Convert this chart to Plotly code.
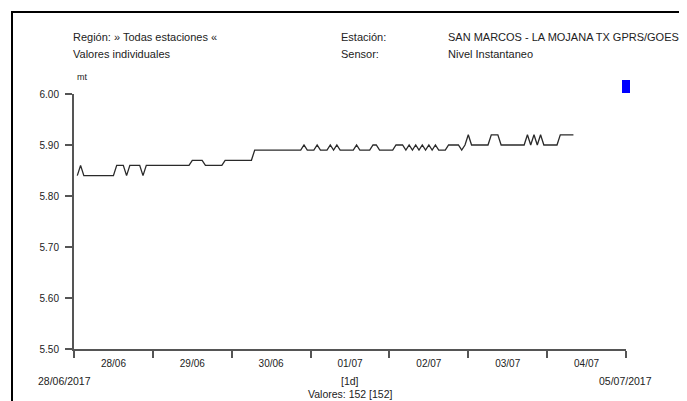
import plotly.graph_objects as go
import pandas as pd

# ---- data ----
segments = [
    (5.84, 1), (5.86, 1), (5.84, 10), (5.86, 3), (5.84, 1), (5.86, 4), (5.84, 1),
    (5.86, 14), (5.87, 4), (5.86, 6), (5.87, 9), (5.89, 15),
    (5.90, 1), (5.89, 3), (5.90, 1), (5.89, 3), (5.90, 1), (5.89, 1), (5.90, 1),
    (5.89, 5), (5.90, 1), (5.89, 4), (5.90, 2), (5.89, 5), (5.90, 3),
    (5.89, 1), (5.90, 1), (5.89, 1), (5.90, 1), (5.89, 1), (5.90, 1), (5.89, 1),
    (5.90, 1), (5.89, 1), (5.90, 1), (5.89, 3),
    (5.90, 4), (5.89, 1), (5.90, 1), (5.92, 1), (5.90, 6), (5.92, 3), (5.90, 8),
    (5.92, 1), (5.90, 1), (5.92, 1), (5.90, 1), (5.92, 1), (5.90, 5), (5.92, 5),
]
values = []
for v, n in segments:
    values += [v] * n

start_time = "2017-06-28 01:00"
times = pd.date_range(start_time, periods=len(values), freq="h")

x_range = ["2017-06-28", "2017-07-05"]
y_ticks = [5.50, 5.60, 5.70, 5.80, 5.90, 6.00]

region_text = "Región: » Todas estaciones «"
mode_text = "Valores individuales"
station_label = "Estación:"
sensor_label = "Sensor:"
station_name = "SAN MARCOS - LA MOJANA TX GPRS/GOES"
sensor_name = "Nivel Instantaneo"
unit = "mt"
start_label = "28/06/2017"
end_label = "05/07/2017"
interval_label = "[1d]"

FONT = "Liberation Sans, Arial, sans-serif"
AX = "#555555"
TXT = "#222222"

fig = go.Figure()
fig.add_trace(go.Scatter(x=times, y=values, mode="lines",
                         line=dict(color="#2a2a2a", width=1.3), showlegend=False,
                         hoverinfo="skip"))

# page body has an 8px margin: work in reference pixels, shifted by OFF
OFF = 8
W, H = 687 - OFF, 401 - OFF
L, T = 74 - OFF, 94 - OFF
PR, PB = 626 - OFF, 349 - OFF
R, B = W - PR, H - PB
pw, ph = PR - L, PB - T

def px(x):
    return (x - OFF - L) / pw

def py(y):
    return (PB - (y - OFF)) / ph

fig.update_layout(
    width=W, height=H,
    margin=dict(l=L, r=R, t=T, b=B, pad=0),
    paper_bgcolor="white", plot_bgcolor="white",
    font=dict(family=FONT, size=10, color=TXT),
    xaxis=dict(type="date", range=x_range, showgrid=False, zeroline=False,
               showline=True, linecolor=AX, linewidth=2,
               ticks="outside", ticklen=7, tickwidth=2, tickcolor=AX,
               tick0="2017-06-28", dtick=86400000, tickformat="%d/%m",
               ticklabelmode="period", ticklabelstandoff=-3,
               tickfont=dict(size=10, family=FONT, color=TXT)),
    yaxis=dict(range=[5.5, 6.0], showgrid=False, zeroline=False,
               showline=True, linecolor=AX, linewidth=2,
               ticks="outside", ticklen=7, tickwidth=2, tickcolor=AX,
               tickvals=y_ticks, tickformat=".2f", ticklabelstandoff=4,
               tickfont=dict(size=10, family=FONT, color=TXT)),
)

def ann(text, x, y, xanchor="left", size=11):
    fig.add_annotation(text=text, x=px(x), y=py(y), xref="paper", yref="paper",
                       xanchor=xanchor, yanchor="middle", showarrow=False,
                       font=dict(family=FONT, size=size, color=TXT))

ann(region_text, 71, 37)
ann(mode_text, 71, 54)
ann(station_label, 339, 37)
ann(sensor_label, 339, 54)
ann(station_name, 446, 37)
ann(sensor_name, 446, 54)
ann(unit, 75, 77, size=9)
ann(start_label, 64, 381, xanchor="center", size=10.5)
ann(end_label, 625, 381, xanchor="center", size=10.5)
ann(interval_label, 350, 381, xanchor="center", size=10.5)
ann(f"Valores: {len(values)} [{len(values)}]", 350, 394, xanchor="center", size=10.5)

# frame and legend marker
fig.add_shape(type="rect", xref="paper", yref="paper",
              x0=px(12), x1=px(680), y0=py(420), y1=py(12),
              line=dict(color="black", width=2), fillcolor="rgba(0,0,0,0)")
fig.add_shape(type="rect", xref="paper", yref="paper",
              x0=px(622), x1=px(630), y0=py(93), y1=py(80),
              line=dict(color="#0000ff", width=0), fillcolor="#0000ff")

fig.write_html("out.html")
